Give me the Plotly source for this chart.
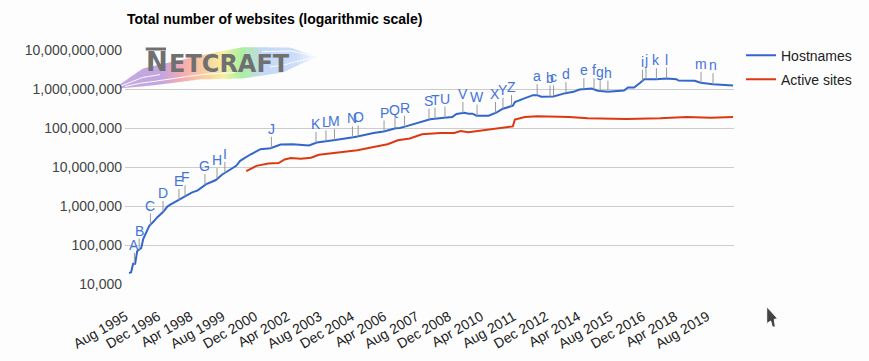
import numpy as np
import pandas as pd
import plotly.graph_objects as go

host_dates = ["1995-08","1995-09","1995-10","1995-11","1995-12","1996-01","1996-02","1996-03","1996-04","1996-05","1996-06","1996-08","1996-10","1997-01","1997-03","1997-04","1997-09","1997-12","1998-03","1998-06","1998-10","1999-03","1999-06","2000-01","2000-03","2000-08","2001-01","2001-06","2001-11","2002-05","2003-01","2003-05","2003-10","2004-02","2004-11","2005-01","2005-09","2006-02","2006-08","2006-10","2007-01","2007-06","2007-11","2008-01","2008-08","2008-12","2009-02","2009-06","2009-08","2009-10","2009-12","2010-06","2010-10","2011-01","2011-06","2011-07","2011-12","2012-04","2012-06","2012-08","2013-02","2013-08","2013-12","2014-03","2014-09","2014-12","2015-05","2016-01","2016-03","2016-06","2016-09","2016-11","2017-05","2017-10","2018-03","2018-04","2018-12","2019-03","2019-09","2020-07"]
hostnames = [19000,20000,33000,33000,69000,76000,84000,142000,183000,236000,311000,393000,517000,721000,967000,1047000,1459000,1811000,2202000,2525000,3590000,4630000,6340000,10740000,14420000,20900000,28600000,30300000,37700000,38400000,35600000,42500000,45700000,49400000,57900000,60300000,74500000,80900000,98000000,100000000,110000000,129000000,157000000,167000000,184000000,191000000,228000000,247000000,233000000,233000000,207000000,207000000,252000000,313000000,372000000,460000000,582000000,695000000,695000000,631000000,645000000,782000000,847000000,970000000,1030000000,900000000,847000000,916000000,1090000000,1090000000,1440000000,1780000000,1780000000,1850000000,1780000000,1650000000,1620000000,1440000000,1330000000,1230000000]

active_dates = ["2000-06","2000-11","2001-05","2001-10","2002-01","2002-04","2002-09","2003-02","2003-06","2004-05","2005-01","2005-09","2006-04","2006-09","2007-03","2007-09","2008-06","2009-01","2009-04","2009-08","2010-02","2010-10","2011-06","2011-07","2011-12","2012-06","2013-10","2014-07","2015-06","2016-02","2017-07","2018-08","2019-08","2020-07"]
active_sites = [7850000,10700000,12300000,12600000,15600000,16900000,16200000,17200000,20500000,24000000,27000000,32700000,38400000,48500000,53700000,69000000,74500000,74500000,83800000,77600000,85700000,100000000,110000000,164000000,191000000,199000000,191000000,177000000,172000000,170000000,177000000,191000000,184000000,191000000]

event_letters = list("ABCDEFGHIJKLMNOPQRSTUVWXYZabcdefghijklmn")
event_dates = ["1995-10-20","1996-01-01","1996-06-18","1996-12-25","1997-08-22","1997-11-22","1998-09-18","1999-03-18","1999-07-15","2001-06-15","2003-04-18","2003-09-15","2004-01-21","2004-10-18","2005-01-12","2006-02-06","2006-07-21","2006-12-12","2007-12-15","2008-03-15","2008-08-12","2009-05-09","2009-12-09","2010-09-12","2011-01-03","2011-05-12","2012-06-01","2012-12-12","2013-02-03","2013-08-09","2014-05-06","2014-10-06","2015-01-06","2015-05-03","2016-10-06","2016-11-27","2017-05-03","2017-10-03","2019-03-06","2019-09-03"]

tick_labels = ["Aug 1995","Dec 1996","Apr 1998","Aug 1999","Dec 2000","Apr 2002","Aug 2003","Dec 2004","Apr 2006","Aug 2007","Dec 2008","Apr 2010","Aug 2011","Dec 2012","Apr 2014","Aug 2015","Dec 2016","Apr 2018","Aug 2019"]
tick_dates = ["1995-08","1996-12","1998-04","1999-08","2000-12","2002-04","2003-08","2004-12","2006-04","2007-08","2008-12","2010-04","2011-08","2012-12","2014-04","2015-08","2016-12","2018-04","2019-08"]
y_ticks = [10000,100000,1000000,10000000,100000000,1000000000,10000000000]

FONT = "Liberation Sans, Arial, sans-serif"
BG = "#fdfdfd"
L, R, T, B = 125.0, 734.0, 49.5, 284.5
GRID_LEFT = 127.0

def px(x): return (x - L) / (R - L)
def py(y): return (B - y) / (B - T)
def pth(pts, close=True):
    return "M" + " L".join(f"{px(a):.5f},{py(b):.5f}" for a, b in pts) + (" Z" if close else "")

fig = go.Figure()
fig.add_trace(go.Scatter(x=host_dates, y=hostnames, name="Hostnames", mode="lines", legendgroup="a",
                         line=dict(color="#3366cc", width=2)))
fig.add_trace(go.Scatter(x=active_dates, y=active_sites, name="Active sites", mode="lines", legendgroup="b",
                         line=dict(color="#dc3912", width=2)))

# event markers, anchored on the hostnames line
hx = pd.to_datetime(host_dates).astype("int64").to_numpy()
ex = pd.to_datetime(event_dates).astype("int64").to_numpy()
ey = np.interp(ex, hx, np.log10(hostnames))
annotations = []
for letter, d, yv in zip(event_letters, event_dates, ey):
    annotations.append(dict(x=d, y=float(yv), xref="x", yref="y", text=letter, showarrow=True,
                            arrowhead=0, arrowwidth=1, arrowcolor="#999999", ax=0, ay=-19,
                            standoff=0, borderpad=0, borderwidth=0,
                            font=dict(family=FONT, size=14, color="#4374d9")))

# Netcraft logo
top_edge = [(120,84),(143,68),(210,53),(243,46.7),(290,47),(313,55)]
bot_edge = [(120,88),(153,85),(200,79),(243,78),(283,72),(313,58)]
stops = [(120,(195,170,225)),(160,(196,165,225)),(180,(246,170,178)),(205,(249,210,160)),(222,(246,240,160)),
         (240,(170,240,160)),(262,(197,216,248)),(295,(205,222,250)),(313,(245,248,253))]
tp = lambda v: float(np.interp(v, *zip(*top_edge)))
bt = lambda v: float(np.interp(v, *zip(*bot_edge)))
shapes = []
# gridlines begin a little right of the label anchor
for t in y_ticks:
    yy = B - (np.log10(t) - 4) * (B - T) / 6
    shapes.append(dict(type="rect", xref="paper", yref="paper", layer="below", line=dict(width=0), fillcolor=BG,
                       x0=px(L - 1), x1=px(GRID_LEFT), y0=py(yy + 1.2), y1=py(yy - 1.2)))
for x0 in np.arange(120, 313, 3.0):
    x1 = x0 + 3.4
    col = [int(np.interp(x0, [s[0] for s in stops], [s[1][i] for s in stops])) for i in range(3)]
    shapes.append(dict(type="path", xref="paper", yref="paper", layer="below", line=dict(width=0),
                       fillcolor=f"rgb({col[0]},{col[1]},{col[2]})",
                       path=pth([(x0, tp(x0)), (x1, tp(x1)), (x1, bt(x1)), (x0, bt(x0))])))
# brush streaks in the swoosh
for frac, a, b in [(0.8, 125, 235), (0.5, 120, 160), (0.15, 262, 313), (0.72, 270, 313)]:
    vs = np.linspace(a, b, 8)
    shapes.append(dict(type="path", xref="paper", yref="paper", layer="below",
                       line=dict(width=1, color=BG),
                       path=pth([(v, tp(v) + frac * (bt(v) - tp(v))) for v in vs], close=False)))
# bar over the logo's initial
shapes.append(dict(type="path", xref="paper", yref="paper", line=dict(width=0), fillcolor="#707070",
                   path=pth([(145.7,47),(166,47),(166,50),(145.7,50)])))
# mouse pointer visible in the reference screenshot
shapes.append(dict(type="path", xref="paper", yref="paper", fillcolor="#444444", line=dict(width=1, color="#ffffff"),
                   path=pth([(766.7,307.3),(777.7,319.3),(774.3,320),(775.3,327.7),(772.3,327.7),(770.7,321.7),(766.7,324.3)])))

LOGO = "DejaVu Sans, sans-serif"
annotations += [
    dict(xref="paper", yref="paper", x=px(145), y=py(61.5), text="<b>N</b>", showarrow=False, xanchor="left", yanchor="middle",
         borderpad=0, font=dict(family=LOGO, size=26, color="#707070")),
    dict(xref="paper", yref="paper", x=px(168), y=py(63.5), text="<b>ETCRAFT</b>", showarrow=False, xanchor="left", yanchor="middle",
         borderpad=0, font=dict(family=LOGO, size=24, color="#707070")),
]

# rotated labels end a little left of their tick in the reference
tick_positions = pd.to_datetime(tick_dates) - pd.Timedelta(days=53)

fig.update_layout(
    width=869, height=361, autosize=False,
    margin=dict(l=L, r=869 - R, t=T, b=361 - B, pad=0, autoexpand=False),
    paper_bgcolor=BG, plot_bgcolor=BG,
    font=dict(family=FONT, size=14, color="#444444"),
    title=dict(text="<b>Total number of websites (logarithmic scale)</b>", x=GRID_LEFT / 869, xanchor="left",
               y=1 - 19 / 361, yanchor="middle", font=dict(family=FONT, size=14, color="#000000")),
    xaxis=dict(type="date", range=["1995-06-01", "2020-07-15"], tickvals=list(tick_positions), ticktext=tick_labels,
               tickangle=-30, showgrid=False, zeroline=False, showline=False, ticks="", automargin=False,
               ticklabelstandoff=21, tickfont=dict(family=FONT, size=14, color="#222222")),
    yaxis=dict(type="log", range=[4, 10], tickvals=y_ticks, tickformat=",d", gridcolor="#cccccc", gridwidth=1,
               zeroline=False, showline=False, ticks="", ticklabelstandoff=-2 + 4, automargin=False,
               tickfont=dict(family=FONT, size=14, color="#444444")),
    legend=dict(x=px(741), y=py(39), xanchor="left", yanchor="top", bgcolor="rgba(0,0,0,0)", borderwidth=0,
                tracegroupgap=3, font=dict(family=FONT, size=14, color="#222222")),
    annotations=annotations, shapes=shapes,
)
fig.write_html("out.html", config=dict(displayModeBar=False),
               post_script="document.body.style.margin='0';document.body.style.overflow='hidden';")
